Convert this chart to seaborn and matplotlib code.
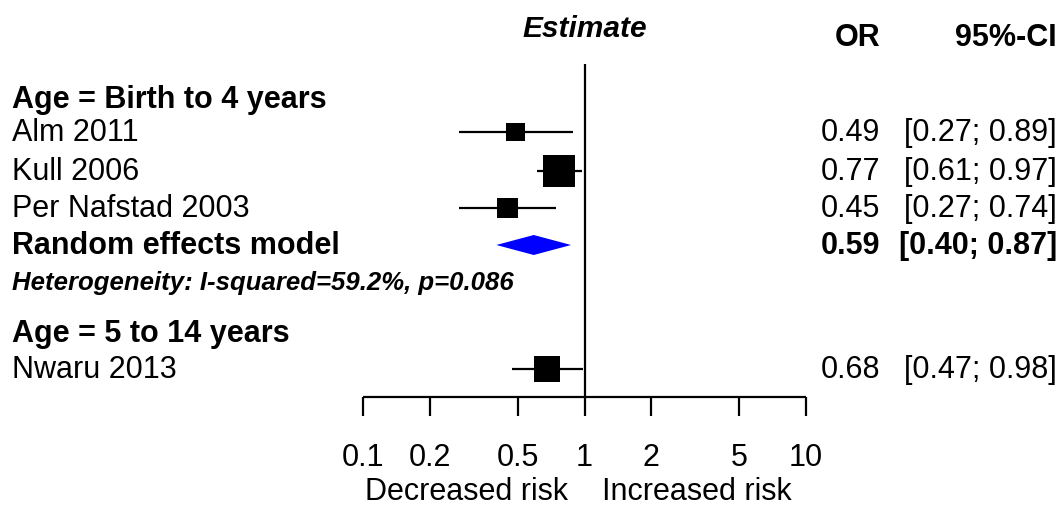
import numpy as np
import pandas as pd
import matplotlib
matplotlib.use('Agg')
import matplotlib.pyplot as plt
import seaborn as sns

# 森林图数据
studies = ['Alm 2011', 'Kull 2006', 'Per Nafstad 2003', 'Nwaru 2013']
odds = [0.49, 0.77, 0.45, 0.68]
lower = [0.27, 0.61, 0.27, 0.47]
upper = [0.89, 0.97, 0.74, 0.98]
weights = [14.4, 40.9, 17.6, 27.0]
row_y = [133, 172, 209, 370]

pooled = [0.59, 0.40, 0.87]   # 估计值, 下限, 上限
pooled_y = 246

ticks = [0.1, 0.2, 0.5, 1, 2, 5, 10]
tick_labels = ['0.1', '0.2', '0.5', '1', '2', '5', '10']

sns.set_theme(style='white')
plt.rcParams['font.family'] = ['Liberation Sans', 'DejaVu Sans']
plt.rcParams['text.color'] = 'black'

W, H = 1064, 506
FS = 22
fig = plt.figure(figsize=(W / 100, H / 100), dpi=100)
ax = fig.add_axes([0, 0, 1, 1])
ax.set_xscale('log')
# 0.1 -> 363px, 10 -> 806px
dec = (806 - 363) / 2
ax.set_xlim(10 ** (-1 - 363 / dec), 10 ** (1 + (W - 806) / dec))
ax.set_ylim(H, 0)
ax.axis('off')

df = pd.DataFrame({'study': studies, 'or': odds, 'lo': lower, 'hi': upper,
                   'w': weights, 'y': row_y})

# 置信区间线
ax.hlines(df['y'], df['lo'], df['hi'], color='black', lw=1.6, zorder=2)
# 方块，大小代表权重
sns.scatterplot(data=df, x='or', y='y', size='w', sizes=(187, 531),
                size_norm=(min(weights), max(weights)), marker='s',
                color='black', linewidth=0, legend=False, ax=ax, zorder=3)

# 合并效应菱形
est, lo, hi = pooled
ax.fill([lo, est, hi, est], [pooled_y, pooled_y - 10, pooled_y, pooled_y + 10],
        color='#0000ff', lw=0, zorder=3)

# 无效线
ax.vlines(1, 65, 398, color='black', lw=1.6)

# 坐标轴
ax.hlines(398, ticks[0], ticks[-1], color='black', lw=1.6)
ax.vlines(ticks, 398, 417, color='black', lw=1.6)
for t, lab in zip(ticks, tick_labels):
    ax.text(t, 458, lab, ha='center', va='center', fontsize=FS)

tr = ax.get_yaxis_transform()
ax.text(568 / W, 492, 'Decreased risk', ha='right', va='center', fontsize=FS, transform=tr)
ax.text(602 / W, 492, 'Increased risk', ha='left', va='center', fontsize=FS, transform=tr)

# 表头
ax.text(1, 29, 'Estimate', ha='center', va='center', fontsize=21.5,
        fontweight='bold', fontstyle='italic')
ax.text(880 / W, 38, 'OR', ha='right', va='center', fontsize=FS, fontweight='bold', transform=tr)
ax.text(1057 / W, 38, '95%-CI', ha='right', va='center', fontsize=FS, fontweight='bold', transform=tr)

# 左侧标签
x0 = 12 / W
ax.text(x0, 100, 'Age = Birth to 4 years', fontsize=FS, fontweight='bold', va='center', transform=tr)
ax.text(x0, 334, 'Age = 5 to 14 years', fontsize=FS, fontweight='bold', va='center', transform=tr)
for s, y in zip(studies, row_y):
    ax.text(x0, y, s, fontsize=FS, va='center', transform=tr)
ax.text(x0, pooled_y, 'Random effects model', fontsize=FS, fontweight='bold', va='center', transform=tr)
ax.text(x0, 283, 'Heterogeneity: I-squared=59.2%, p=0.086', fontsize=18.5,
        fontweight='bold', fontstyle='italic', va='center', transform=tr)

# 右侧数值
for o, l, h, y in zip(odds, lower, upper, row_y):
    ax.text(880 / W, y, f'{o:.2f}', ha='right', va='center', fontsize=FS, transform=tr)
    ax.text(1057 / W, y, f'[{l:.2f}; {h:.2f}]', ha='right', va='center', fontsize=FS, transform=tr)
ax.text(880 / W, pooled_y, f'{est:.2f}', ha='right', va='center', fontsize=FS,
        fontweight='bold', transform=tr)
ax.text(1057 / W, pooled_y, f'[{lo:.2f}; {hi:.2f}]', ha='right', va='center', fontsize=FS,
        fontweight='bold', transform=tr)

fig.savefig('out.png', dpi=100)
